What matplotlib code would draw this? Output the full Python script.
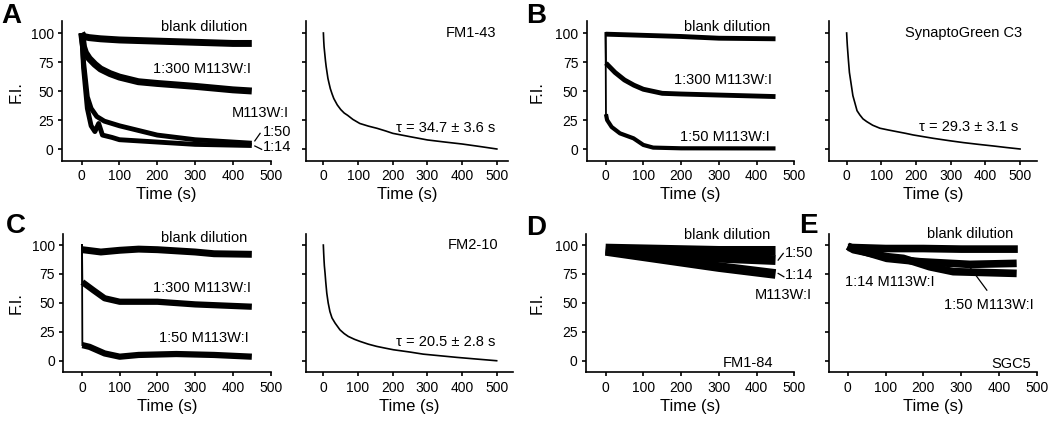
import matplotlib
matplotlib.use('Agg')
import matplotlib.pyplot as plt

plt.rcParams['font.family'] = ['Liberation Sans', 'DejaVu Sans']

# ---- data ----
# A: FM1-43 destaining traces
a_t_blank = [0, 5, 20, 50, 100, 150, 200, 250, 300, 350, 400, 450]
a_blank = [100, 97, 96, 95, 94, 93.5, 93, 92.5, 92, 91.5, 91, 91]
a_t_300 = [0, 5, 10, 20, 35, 50, 75, 100, 150, 200, 300, 400, 450]
a_300 = [100, 88, 83, 78, 73, 69, 65, 62, 58, 56.5, 54, 51, 50]
a_t_50 = [0, 5, 15, 25, 40, 60, 100, 150, 200, 300, 400, 450]
a_50 = [100, 75, 45, 35, 28, 24, 20, 16, 12, 8, 6, 5]
a_t_14 = [0, 5, 15, 25, 35, 45, 55, 80, 100, 150, 200, 300, 450]
a_14 = [100, 70, 35, 20, 15, 22, 12, 10, 8, 7, 6, 4, 3]
a_fit_t = [0, 1, 2, 4, 6, 8, 10, 13, 16, 20, 25, 30, 40, 50, 60, 70, 85, 105,
           130, 155, 180, 200, 250, 300, 350, 400, 450, 500]
a_fit = [100, 93, 88, 82, 76, 71, 67, 61, 57, 52, 47.5, 43.5, 38, 34, 31, 29,
         25.5, 22, 19.7, 17.8, 15.5, 13.5, 10.6, 7.8, 6, 4.3, 2.2, 0]

# B: SynaptoGreen C3
b_t_blank = [0, 100, 200, 300, 450]
b_blank = [99, 98, 97, 95.5, 95]
b_t_300 = [0, 1, 25, 50, 75, 100, 150, 200, 300, 450]
b_300 = [100, 74, 66, 59.5, 55, 51.5, 48, 47.4, 46.5, 45.2]
b_t_50 = [0, 1, 4, 16, 38, 74, 100, 126, 200, 450]
b_50 = [100, 30, 25, 19, 13.5, 9.2, 3.5, 1.2, 0.6, 0.5]
b_fit_t = [0, 1, 2, 3, 5, 8, 11, 14, 18, 24, 30, 38, 47, 58, 75, 96, 120, 144,
           170, 192, 250, 300, 337, 380, 423, 460, 500]
b_fit = [100, 94, 89, 85, 77, 66, 60, 54, 46, 39.5, 33, 29.4, 26, 23.6, 20.5,
         17.9, 16.4, 15, 13.5, 12.1, 9.2, 7, 5.5, 4, 2.6, 1.3, 0]

# C: FM2-10
c_t_blank = [0, 1, 50, 100, 150, 200, 250, 300, 350, 450]
c_blank = [100, 96, 94, 95.5, 96.5, 96, 95, 94, 92.5, 92]
c_t_300 = [0, 1, 30, 60, 100, 200, 300, 450]
c_300 = [100, 68, 61, 54, 51, 51, 48.7, 46.7]
c_t_50 = [0, 1, 20, 60, 100, 150, 250, 350, 450]
c_50 = [100, 13.5, 12, 6.3, 3.5, 5, 5.8, 5, 3.5]
c_fit_t = [0, 1, 2, 3, 5, 7, 10, 14, 19, 25, 34, 48, 60, 72, 90, 106, 130, 154,
           180, 202, 250, 288, 340, 385, 440, 500]
c_fit = [100, 93, 87, 82, 75.6, 68, 58.3, 50, 42.5, 37, 32.5, 26.7, 23.5, 21,
         18.5, 16.7, 14.3, 12.4, 10.8, 9.5, 7.5, 5.7, 4.2, 2.9, 1.5, 0]

# D: FM1-84
d_t = [0, 150, 300, 450]
d_blank = [97, 96, 95, 95]
d_50 = [96, 92, 89, 87]
d_14 = [95, 88, 81, 75]

# E: SGC5
e_t_blank = [0, 100, 200, 300, 450]
e_blank = [98, 97, 97, 96.5, 96.5]
e_t_50 = [0, 15, 103, 191, 323, 447]
e_50 = [99, 97, 88.5, 85.6, 83.3, 84.2]
e_t_14 = [0, 15, 103, 147, 217, 279, 447]
e_14 = [99, 96, 90, 88.5, 81.2, 77, 75.5]

xticks = [0, 100, 200, 300, 400, 500]
yticks = [0, 25, 50, 75, 100]

W, H = 1050, 423
fig = plt.figure(figsize=(W / 100, H / 100), dpi=100)


def make_ax(left, right, top, bottom, xlim, ylabels=True):
    ax = fig.add_axes([left / W, (H - bottom) / H, (right - left) / W, (bottom - top) / H])
    ax.set_xlim(*xlim)
    ax.set_ylim(-10, 110)
    for s in ['top', 'right']:
        ax.spines[s].set_visible(False)
    for s in ['left', 'bottom']:
        ax.spines[s].set_linewidth(1.2)
    ax.set_xticks(xticks)
    ax.set_yticks(yticks)
    ax.tick_params(length=3, width=1.2, labelsize=10, pad=3)
    if not ylabels:
        ax.set_yticklabels([])
    ax.set_xlabel('Time (s)', fontsize=12, labelpad=3)
    ax.patch.set_visible(False)
    return ax


def trace(ax, t, v, lw, sharp=False):
    if sharp:
        ax.plot(t[:2], v[:2], color='black', lw=1.3)
        ax.plot(t[1:], v[1:], color='black', lw=lw, solid_capstyle='butt')
    else:
        ax.plot(t, v, color='black', lw=lw, solid_capstyle='butt',
                solid_joinstyle='round')


fs = 10.5

# ---- A ----
ax = make_ax(62, 270.7, 21.4, 160.6, (-52, 500))
trace(ax, a_t_blank, a_blank, 5)
trace(ax, a_t_300, a_300, 5)
trace(ax, a_t_50, a_50, 3.5)
trace(ax, a_t_14, a_14, 3.5)
ax.text(437, 105.4, 'blank dilution', ha='right', va='center', fontsize=fs)
ax.text(447, 68.7, '1:300 M113W:I', ha='right', va='center', fontsize=fs)
ax.text(397, 31, 'M113W:I', ha='left', va='center', fontsize=fs)
ax.text(480, 14.9, '1:50', ha='left', va='center', fontsize=fs)
ax.text(480, 1.5, '1:14', ha='left', va='center', fontsize=fs)
ax.plot([458, 472], [7, 13.5], color='black', lw=0.9, clip_on=False)
ax.plot([458, 476], [2.6, -0.3], color='black', lw=0.9, clip_on=False)

ax = make_ax(305.7, 508.3, 21.4, 160.6, (-51, 533), ylabels=False)
ax.plot(a_fit_t, a_fit, color='black', lw=1.2)
ax.text(498, 100, 'FM1-43', ha='right', va='center', fontsize=fs)
ax.text(495, 18, '\u03c4 = 34.7 \u00b1 3.6 s', ha='right', va='center', fontsize=fs)

# ---- B ----
ax = make_ax(586.7, 794.4, 21.4, 160.6, (-50, 500))
trace(ax, b_t_blank, b_blank, 3.5)
trace(ax, b_t_300, b_300, 3.5, sharp=True)
trace(ax, b_t_50, b_50, 3, sharp=True)
ax.text(435, 105.4, 'blank dilution', ha='right', va='center', fontsize=fs)
ax.text(440, 59.5, '1:300 M113W:I', ha='right', va='center', fontsize=fs)
ax.text(435, 10.6, '1:50 M113W:I', ha='right', va='center', fontsize=fs)

ax = make_ax(829.3, 1036.7, 21.4, 160.6, (-50, 548), ylabels=False)
ax.plot(b_fit_t, b_fit, color='black', lw=1.2)
ax.text(505, 100, 'SynaptoGreen C3', ha='right', va='center', fontsize=fs)
ax.text(494, 19, '\u03c4 = 29.3 \u00b1 3.1 s', ha='right', va='center', fontsize=fs)

# ---- C ----
ax = make_ax(63.3, 270.7, 233.5, 372.3, (-49.5, 500))
trace(ax, c_t_blank, c_blank, 5, sharp=True)
trace(ax, c_t_300, c_300, 4.5, sharp=True)
trace(ax, c_t_50, c_50, 4.5, sharp=True)
ax.text(438, 105.8, 'blank dilution', ha='right', va='center', fontsize=fs)
ax.text(447, 62.6, '1:300 M113W:I', ha='right', va='center', fontsize=fs)
ax.text(443, 19.4, '1:50 M113W:I', ha='right', va='center', fontsize=fs)

ax = make_ax(306, 513.3, 233.5, 372.3, (-50, 548), ylabels=False)
ax.plot(c_fit_t, c_fit, color='black', lw=1.2)
ax.text(505, 100, 'FM2-10', ha='right', va='center', fontsize=fs)
ax.text(495, 16, '\u03c4 = 20.5 \u00b1 2.8 s', ha='right', va='center', fontsize=fs)

# ---- D ----
ax = make_ax(586, 794.4, 233.5, 372.3, (-52, 500))
trace(ax, d_t, d_blank, 7)
trace(ax, d_t, d_50, 7)
trace(ax, d_t, d_14, 7)
ax.text(437, 108.6, 'blank dilution', ha='right', va='center', fontsize=fs)
ax.text(475, 92.8, '1:50', ha='left', va='center', fontsize=fs)
ax.text(475, 74, '1:14', ha='left', va='center', fontsize=fs)
ax.text(395, 56.8, 'M113W:I', ha='left', va='center', fontsize=fs)
ax.plot([457, 470.5], [87, 92.8], color='black', lw=0.9, clip_on=False)
ax.plot([457, 472], [75.5, 72.6], color='black', lw=0.9, clip_on=False)
ax.text(444, -2.3, 'FM1-84', ha='right', va='center', fontsize=fs)

# ---- E ----
ax = make_ax(829.3, 1036.7, 233.5, 372.3, (-49, 500), ylabels=False)
trace(ax, e_t_blank, e_blank, 5.5)
trace(ax, e_t_50, e_50, 5.5)
trace(ax, e_t_14, e_14, 5.5)
ax.text(438, 109.5, 'blank dilution', ha='right', va='center', fontsize=fs)
ax.text(-7, 68.3, '1:14 M113W:I', ha='left', va='center', fontsize=fs)
ax.text(491, 48, '1:50 M113W:I', ha='right', va='center', fontsize=fs)
ax.plot([368, 319], [61, 82.7], color='black', lw=0.9)
ax.text(484, -2.9, 'SGC5', ha='right', va='center', fontsize=fs)

# ---- y labels and panel letters ----
for x, y in [(16, 92), (537, 92), (16, 303), (537, 303)]:
    fig.text(x / W, 1 - y / H, 'F.I.', rotation=90, ha='center', va='center', fontsize=12)
for letter, x, y in [('A', 11, 16), ('B', 536, 16), ('C', 16, 226), ('D', 536, 228), ('E', 808, 226)]:
    fig.text(x / W, 1 - y / H, letter, ha='center', va='center', fontsize=20, fontweight='bold')

fig.savefig('out.png', dpi=100)
